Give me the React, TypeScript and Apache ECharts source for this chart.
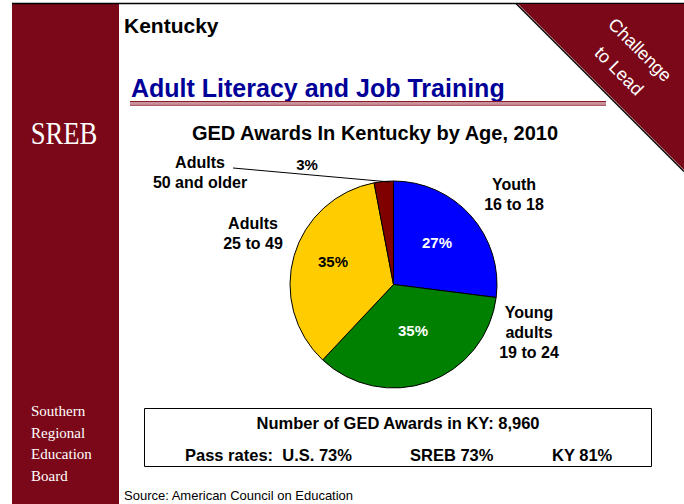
import React, { useEffect, useRef } from 'react';
import * as echarts from 'echarts';

// ---- data ----
const categories = ['Youth\n16 to 18', 'Young\nadults\n19 to 24', 'Adults\n25 to 49', 'Adults\n50 and older'];
const shares = [27, 35, 35, 3];
const sliceColors = ['#0000ff', '#008000', '#ffcc00', '#800000'];
const pctLabelColors = ['#ffffff', '#ffffff', '#000000', '#000000'];
const sidebarLines = ['Southern', 'Regional', 'Education', 'Board'];
const passRates = ['Pass rates:  U.S. 73%', 'SREB 73%', 'KY 81%'];
const totalAwards = '8,960';

// ---- layout ----
const MAROON = '#7a0818';
const FONT = '"Liberation Sans", Arial, sans-serif';
const SERIF = '"Liberation Serif", "Times New Roman", serif';
const pctPos: number[][] = [[437, 242], [413, 330], [333, 261], [307, 164]];
const catPos: number[][] = [[514, 194], [529, 332], [253, 233], [200, 172]];
const passX = [185, 410, 552];

export default function App() {
  const ref = useRef<HTMLDivElement>(null);
  useEffect(() => {
    if (!ref.current) return;
    const chart = echarts.init(ref.current, null, { renderer: 'svg' });

    const graphics: any[] = [];
    // sidebar
    graphics.push({ type: 'rect', shape: { x: 12, y: 3, width: 107, height: 501 }, style: { fill: MAROON }, z: 1 });
    // top line
    graphics.push({ type: 'line', shape: { x1: 12, y1: 3.5, x2: 684, y2: 3.5 }, style: { stroke: '#000', lineWidth: 1.5 }, z: 2 });
    // triangle with shadow edge
    graphics.push({ type: 'line', shape: { x1: 516, y1: 3.5, x2: 684, y2: 171.5 }, style: { stroke: '#000', lineWidth: 1.5 }, z: 2 });
    graphics.push({ type: 'polygon', shape: { points: [[518, 4], [684, 4], [684, 170]] }, style: { fill: MAROON }, z: 3 });
    graphics.push({
      type: 'text', x: 640, y: 50, rotation: -Math.PI / 4, z: 4,
      style: { text: 'Challenge', fill: '#fff', font: `18px ${FONT}`, textAlign: 'center', textVerticalAlign: 'middle', align: 'center', verticalAlign: 'middle' },
    });
    graphics.push({
      type: 'text', x: 619, y: 71, rotation: -Math.PI / 4, z: 4,
      style: { text: 'to Lead', fill: '#fff', font: `18px ${FONT}`, textAlign: 'center', textVerticalAlign: 'middle', align: 'center', verticalAlign: 'middle' },
    });
    // SREB logo
    graphics.push({
      type: 'text', x: 64, y: 133, scaleX: 0.86, z: 4,
      style: { text: 'SREB', fill: '#fff', font: `31px ${SERIF}`, textAlign: 'center', textVerticalAlign: 'middle', align: 'center', verticalAlign: 'middle' },
    });
    const sideY = [411, 433, 454, 476];
    sidebarLines.forEach((t, i) => {
      graphics.push({
        type: 'text', x: 31, y: sideY[i], z: 4,
        style: { text: t, fill: '#fff', font: `15px ${SERIF}`, textAlign: 'left', textVerticalAlign: 'middle', align: 'left', verticalAlign: 'middle' },
      });
    });
    // headings
    graphics.push({
      type: 'text', x: 124, y: 25, z: 4,
      style: { text: 'Kentucky', fill: '#000', font: `bold 21px ${FONT}`, textAlign: 'left', textVerticalAlign: 'middle', align: 'left', verticalAlign: 'middle' },
    });
    graphics.push({
      type: 'text', x: 131, y: 88, z: 4,
      style: { text: 'Adult Literacy and Job Training', fill: '#000099', font: `bold 25px ${FONT}`, textAlign: 'left', textVerticalAlign: 'middle', align: 'left', verticalAlign: 'middle' },
    });
    // underline
    graphics.push({ type: 'rect', shape: { x: 130, y: 101, width: 476, height: 5 }, style: { fill: '#c9939c' }, z: 4 });
    graphics.push({ type: 'line', shape: { x1: 130, y1: 101.5, x2: 606, y2: 101.5 }, style: { stroke: '#8a1a2c', lineWidth: 1.2 }, z: 5 });
    graphics.push({ type: 'line', shape: { x1: 130, y1: 105.3, x2: 606, y2: 105.3 }, style: { stroke: '#a8505e', lineWidth: 1 }, z: 5 });
    // category labels
    categories.forEach((c, i) => {
      graphics.push({
        type: 'text', x: catPos[i][0], y: catPos[i][1], z: 4,
        style: { text: c, fill: '#000', font: `bold 16px ${FONT}`, lineHeight: 20, textAlign: 'center', textVerticalAlign: 'middle', align: 'center', verticalAlign: 'middle' },
      });
    });
    // leader line for small slice
    graphics.push({ type: 'line', shape: { x1: 233, y1: 168, x2: 390, y2: 182 }, style: { stroke: '#000', lineWidth: 1 }, z: 4 });
    // info box
    graphics.push({ type: 'rect', shape: { x: 144.5, y: 408.5, width: 507, height: 58 }, style: { fill: '#fff', stroke: '#000', lineWidth: 1 }, z: 4 });
    graphics.push({
      type: 'text', x: 398, y: 423, z: 5,
      style: { text: `Number of GED Awards in KY: ${totalAwards}`, fill: '#000', font: `bold 16.5px ${FONT}`, textAlign: 'center', textVerticalAlign: 'middle', align: 'center', verticalAlign: 'middle' },
    });
    passRates.forEach((t, i) => {
      graphics.push({
        type: 'text', x: passX[i], y: 455, z: 5,
        style: { text: t, fill: '#000', font: `bold 16.5px ${FONT}`, textAlign: 'left', textVerticalAlign: 'middle', align: 'left', verticalAlign: 'middle' },
      });
    });
    graphics.push({
      type: 'text', x: 124, y: 495, z: 5,
      style: { text: 'Source: American Council on Education', fill: '#000', font: `13px ${FONT}`, textAlign: 'left', textVerticalAlign: 'middle', align: 'left', verticalAlign: 'middle' },
    });

    chart.setOption({
      animation: false,
      backgroundColor: '#ffffff',
      title: {
        text: 'GED Awards In Kentucky by Age, 2010',
        left: 370, top: 118, textAlign: 'center',
        textStyle: { fontFamily: FONT, fontWeight: 'bold', fontSize: 20, color: '#000' },
      },
      graphic: { elements: graphics },
      series: [
        {
          type: 'pie',
          center: [393.5, 284.5],
          radius: 103.5,
          startAngle: 90,
          clockwise: true,
          avoidLabelOverlap: false,
          itemStyle: { borderColor: '#000', borderWidth: 1 },
          label: {
            show: true,
            position: 'inside',
            formatter: (p: any) => `${p.value}%`,
            fontFamily: FONT,
            fontWeight: 'bold',
            fontSize: 15,
          },
          labelLine: { show: false },
          labelLayout: (p: any) => ({
            x: pctPos[p.dataIndex][0],
            y: pctPos[p.dataIndex][1],
            align: 'center',
            verticalAlign: 'middle',
          }),
          emphasis: { disabled: true },
          data: shares.map((v, i) => ({
            name: categories[i].replace(/\n/g, ' '),
            value: v,
            itemStyle: { color: sliceColors[i] },
            label: { color: pctLabelColors[i] },
          })),
        },
      ],
    });
    return () => chart.dispose();
  }, []);
  return (
    <div
      ref={ref}
      style={{ position: 'absolute', left: 0, top: 0, width: 684, height: 504, background: '#fff' }}
    />
  );
}
